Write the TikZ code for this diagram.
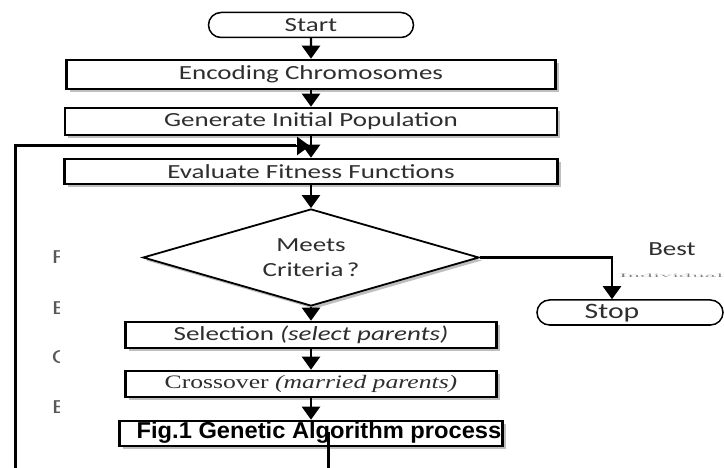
\documentclass[tikz,border=0pt]{standalone}
\usepackage{fontspec}
\newfontfamily\calibfont[FakeStretch=1.35]{Carlito}
\newfontfamily\wideserif[FakeStretch=1.35]{Liberation Serif}
\newfontfamily\capfont[FakeStretch=1.03]{Liberation Sans}
\usetikzlibrary{arrows.meta, shapes.geometric, shapes.misc, shadows}

\definecolor{inkgray}{HTML}{2E2E2E}

\tikzset{
    boxtext/.style={font=\calibfont\fontsize{20}{25}\selectfont, text=inkgray},
    stepbox/.style={
        draw, line width=2.6pt, fill=white, inner sep=0pt,
        minimum height=26pt, boxtext,
        drop shadow={shadow xshift=3pt, shadow yshift=-3pt, opacity=.5}
    },
    term/.style={
        rounded rectangle, draw, line width=1.5pt, inner sep=0pt,
        minimum height=25pt, boxtext
    },
    decision/.style={
        diamond, draw, line width=1.8pt, fill=white, inner sep=0pt,
        aspect=3.4, align=center, boxtext,
        drop shadow={shadow xshift=3pt, shadow yshift=-3pt, opacity=.5}
    },
    arr/.style={line width=2.4pt, -{Triangle[width=18pt,length=13pt]}},
    loopline/.style={line width=3pt},
    sideletter/.style={boxtext, text=inkgray!80, anchor=west, inner sep=0pt}
}

\begin{document}
\begin{tikzpicture}[x=1pt, y=-1pt]
    \useasboundingbox[fill=white] (0,0) rectangle (724,468);

    % main column
    \node[term, minimum width=205pt] (start) at (311,25) {Start};
    \node[stepbox, minimum width=489pt, minimum height=29pt] (enc) at (311,74.5) {Encoding Chromosomes};
    \node[stepbox, minimum width=492pt, minimum height=27pt] (gen) at (311,121.5) {Generate Initial Population};
    \node[stepbox, minimum width=493pt, minimum height=25pt] (eval) at (311,171.5) {Evaluate Fitness Functions};
    \node[decision, minimum width=336pt, minimum height=97pt] (crit) at (311,257.5) {Meets\\Criteria\,?};
    \node[stepbox, minimum width=371pt] (sel) at (311,335) {Selection \textit{(select parents)}};
    \node[stepbox, minimum width=371pt, font=\wideserif\fontsize{19}{24}\selectfont] (cross) at (311,384) {Crossover \textit{(married parents)}};
    \node[stepbox, minimum width=383pt, minimum height=25pt] (mut) at (311,433.5) {};
    \node[inner sep=0pt, font=\capfont\bfseries\fontsize{23}{26}\selectfont] (caption) at (319,433) {Fig.1 Genetic Algorithm process};

    % exit branch
    \node[term, minimum width=186pt] (stop) at (630,312.5) {};
    \node[boxtext, font=\calibfont\fontsize{22}{26}\selectfont, inner sep=0pt] (stoptxt) at (612,313) {Stop};
    \node[boxtext, inner sep=0pt] (best) at (672,249) {Best};
    \node[inner sep=0pt, text=gray] (indiv) at (671,276) {\resizebox{104pt}{3.5pt}{Individual}};

    % clipped letters at the left
    \begin{scope}
        \clip (40,230) rectangle (59,430);
        \node[sideletter] (lf) at (52,257) {F};
        \node[sideletter] (le1) at (52,308) {E};
        \node[sideletter] (lc) at (52,357) {C};
        \node[sideletter] (le2) at (52,407) {E};
    \end{scope}

    % connectors
    \draw[arr] (start) -- (enc);
    \draw[arr] (enc) -- (gen);
    \draw[arr] (gen) -- (eval);
    \draw[arr] (eval) -- (crit);
    \draw[arr] (crit) -- (sel);
    \draw[arr] (sel) -- (cross);
    \draw[arr] (cross) -- (mut);
    \draw[arr] (crit.east) -| (stoptxt |- stop.north);

    % loop back to evaluation
    \coordinate (loopstart) at (328,432);
    \coordinate (loopbot) at (328,490);
    \coordinate (loopleft) at (15,490);
    \coordinate (fb) at (310,146);
    \draw[loopline] (loopstart) -- (loopbot) -- (loopleft) |- ([xshift=-14pt]fb);
    \draw[arr] ([xshift=-18pt]fb) -- (fb);
\end{tikzpicture}
\end{document}
